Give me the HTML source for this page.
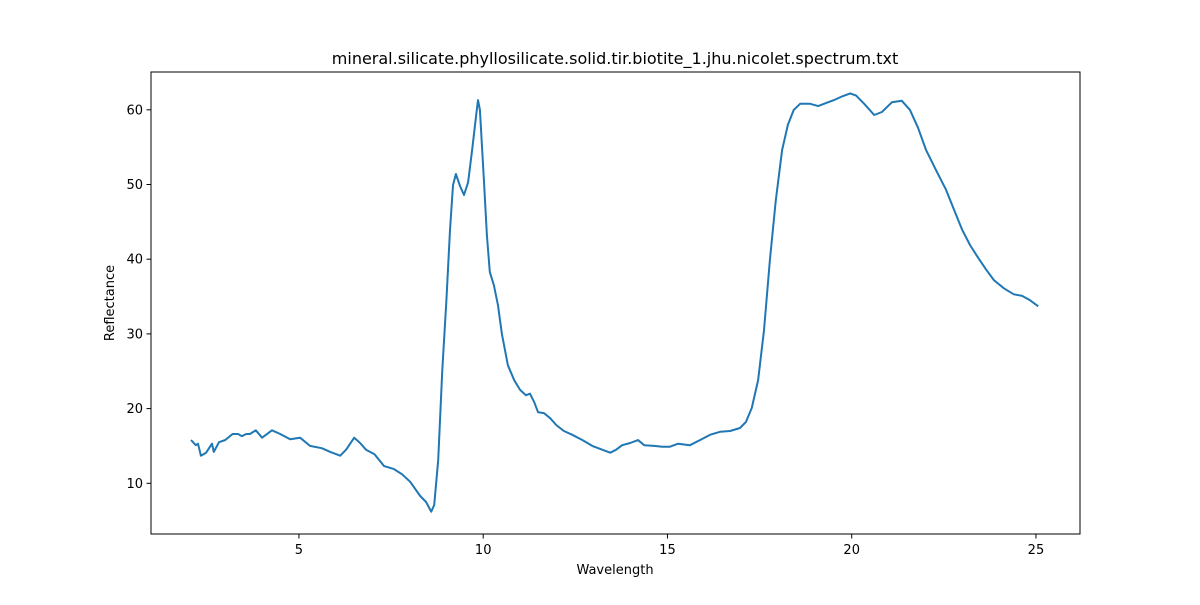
<!DOCTYPE html>
<html><head><meta charset="utf-8"><style>
body{margin:0;background:#fff;font-family:"Liberation Sans","DejaVu Sans",sans-serif}
svg text{font-family:"DejaVu Sans","Liberation Sans",sans-serif;fill:#000}
</style></head><body>
<svg id="chart" width="1200" height="600">
<rect width="1200" height="600" fill="#fff"/>
<text x="615" y="64" font-size="16" text-anchor="middle">mineral.silicate.phyllosilicate.solid.tir.biotite_1.jhu.nicolet.spectrum.txt</text>
<g id="xticks"></g>
<g id="yticks"></g>
<text x="615" y="574" font-size="13" text-anchor="middle">Wavelength</text>
<text x="0" y="0" font-size="13" text-anchor="middle" transform="translate(114,303) rotate(-90)">Reflectance</text>
<path id="line" fill="none" stroke="#1f77b4" stroke-width="2" stroke-linejoin="round"/>
<rect x="151" y="72" width="929" height="462" fill="none" stroke="#000" stroke-width="1"/>
</svg>
<script>
const wavelengths=[2.07,2.2,2.26,2.34,2.48,2.64,2.69,2.83,3.0,3.2,3.35,3.45,3.57,3.67,3.83,4.0,4.27,4.49,4.76,5.03,5.3,5.62,5.85,6.12,6.28,6.5,6.66,6.82,7.05,7.31,7.58,7.8,8.02,8.29,8.45,8.59,8.67,8.78,8.89,9.0,9.1,9.18,9.26,9.37,9.48,9.59,9.7,9.81,9.86,9.91,10.02,10.1,10.18,10.29,10.4,10.51,10.67,10.84,11.0,11.16,11.27,11.38,11.49,11.65,11.82,11.98,12.19,12.41,12.69,12.96,13.23,13.45,13.61,13.77,13.99,14.2,14.37,14.64,14.86,15.07,15.29,15.61,15.89,16.16,16.43,16.7,16.97,17.13,17.29,17.46,17.62,17.78,17.94,18.11,18.27,18.43,18.6,18.87,19.09,19.3,19.52,19.74,19.96,20.12,20.34,20.61,20.82,21.09,21.36,21.58,21.8,22.02,22.29,22.56,22.78,23.0,23.21,23.43,23.65,23.86,24.13,24.4,24.62,24.84,25.06];
const reflectance=[15.8,15.1,15.3,13.7,14.1,15.3,14.2,15.5,15.8,16.6,16.6,16.3,16.6,16.6,17.1,16.1,17.1,16.6,15.9,16.1,15.0,14.7,14.2,13.7,14.5,16.1,15.4,14.5,13.9,12.3,11.9,11.2,10.2,8.3,7.5,6.2,7.1,13.1,25.2,34.5,43.9,49.9,51.4,49.8,48.6,50.3,54.6,59.3,61.3,60.0,50.6,43.2,38.3,36.5,33.9,29.9,25.8,23.8,22.5,21.8,22.0,20.9,19.5,19.4,18.7,17.8,17.0,16.5,15.8,15.0,14.5,14.1,14.5,15.1,15.4,15.8,15.1,15.0,14.9,14.9,15.3,15.1,15.8,16.5,16.9,17.0,17.4,18.2,20.1,23.8,30.5,39.9,47.9,54.6,58.0,60.0,60.8,60.8,60.5,60.9,61.3,61.8,62.2,61.9,60.8,59.3,59.7,61.0,61.2,60.0,57.6,54.6,51.9,49.3,46.6,43.9,41.9,40.2,38.6,37.2,36.1,35.3,35.1,34.5,33.7];
const xTickValues=[5,10,15,20,25];
const yTickValues=[10,20,30,40,50,60];
const xs=v=>114.7+v*36.85;
const ys=v=>558-v*7.47;
const NS='http://www.w3.org/2000/svg';
let d='';
wavelengths.forEach((w,i)=>{d+=(i?'L':'M')+xs(w).toFixed(1)+','+ys(reflectance[i]).toFixed(1);});
document.getElementById('line').setAttribute('d',d);
const xg=document.getElementById('xticks');
xTickValues.forEach(v=>{
 const l=document.createElementNS(NS,'line');
 l.setAttribute('x1',xs(v));l.setAttribute('x2',xs(v));l.setAttribute('y1',534);l.setAttribute('y2',538.5);l.setAttribute('stroke','#000');
 
 
 xg.appendChild(l);
 const t=document.createElementNS(NS,'text');
 t.setAttribute('x',xs(v));t.setAttribute('y',554);t.setAttribute('font-size','13');t.setAttribute('text-anchor','middle');t.textContent=v;
 
 
 xg.appendChild(t);
});
const yg=document.getElementById('yticks');
yTickValues.forEach(v=>{
 const l=document.createElementNS(NS,'line');
 l.setAttribute('x1',146.5);l.setAttribute('x2',151);l.setAttribute('y1',ys(v));l.setAttribute('y2',ys(v));l.setAttribute('stroke','#000');
 
 
 yg.appendChild(l);
 const t=document.createElementNS(NS,'text');
 t.setAttribute('x',143);t.setAttribute('y',ys(v)+4.5);t.setAttribute('font-size','13');t.setAttribute('text-anchor','end');t.textContent=v;
 
 
 yg.appendChild(t);
});
</script>
</body></html>
